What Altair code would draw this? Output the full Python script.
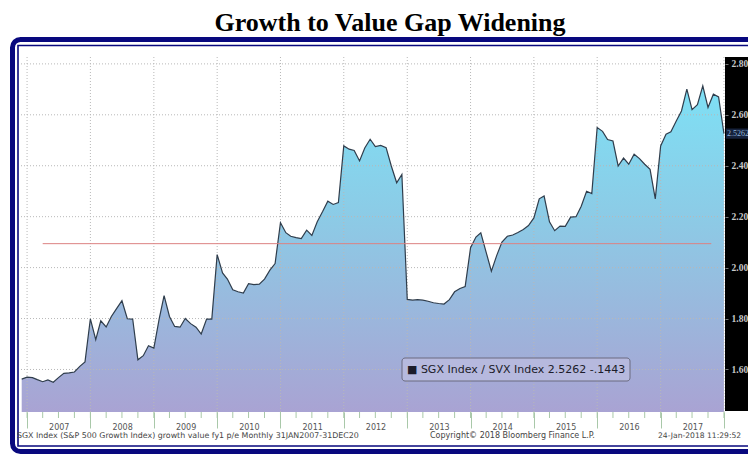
import altair as alt
import pandas as pd

# ---------------- data ----------------
months = pd.date_range("2006-12-01", "2018-01-01", freq="MS").strftime("%Y-%m-%d").tolist()
ratio = [
    1.562, 1.570, 1.568, 1.560, 1.552, 1.559, 1.550, 1.568, 1.585, 1.587, 1.590, 1.612, 1.630,
    1.799, 1.717, 1.791, 1.767, 1.808, 1.840, 1.870, 1.799, 1.798, 1.638, 1.654, 1.693,
    1.684, 1.800, 1.890, 1.808, 1.769, 1.766, 1.800, 1.780, 1.766, 1.739, 1.798, 1.798,
    2.051, 1.979, 1.955, 1.913, 1.905, 1.900, 1.937, 1.933, 1.935, 1.955, 1.990, 2.016,
    2.176, 2.137, 2.123, 2.118, 2.114, 2.147, 2.126, 2.180, 2.220, 2.261, 2.248, 2.255,
    2.478, 2.465, 2.460, 2.419, 2.470, 2.504, 2.475, 2.480, 2.471, 2.399, 2.333, 2.366,
    1.875, 1.872, 1.874, 1.872, 1.868, 1.862, 1.859, 1.857, 1.874, 1.905, 1.918, 1.926,
    2.078, 2.120, 2.137, 2.060, 1.986, 2.048, 2.100, 2.123, 2.128, 2.138, 2.150, 2.165,
    2.195, 2.270, 2.281, 2.180, 2.145, 2.163, 2.162, 2.198, 2.200, 2.241, 2.300, 2.291,
    2.550, 2.535, 2.503, 2.497, 2.399, 2.430, 2.406, 2.445, 2.428, 2.406, 2.386, 2.270,
    2.478, 2.524, 2.533, 2.576, 2.615, 2.701, 2.620, 2.640, 2.714, 2.629, 2.681, 2.670, 2.526,
]
mean_value = 2.094
mean_start, mean_end = "2007-04-01", "2017-10-20"
last_value = 2.5262
year_ticks = [f"{y}-01-01" for y in range(2007, 2019)]
quarter_ticks = pd.date_range("2007-01-01", "2018-01-01", freq="3MS").strftime("%Y-%m-%d").tolist()
y_ticks = [1.6, 1.8, 2.0, 2.2, 2.4, 2.6, 2.8]
y_min, y_max = 1.433, 2.827

title_text = "Growth to Value Gap Widening"
legend_text = "\u25A0 SGX Index / SVX Index 2.5262  -.1443"
footer_left = "SGX Index (S&P 500 Growth Index) growth value fy1 p/e  Monthly 31JAN2007-31DEC20"
footer_mid = "Copyright\u00a9 2018 Bloomberg Finance L.P."
footer_right = "24-Jan-2018 11:29:52"

df = pd.DataFrame({"date": months, "ratio": ratio})

def ms(s):
    return int(pd.Timestamp(s).value // 10**6)

W, H = 704, 355
navy = "#08087e"
grid_col = "#b8b8b8"

xscale = alt.Scale(type="utc", domain=[ms("2006-11-27"), ms("2018-01-07")])
yscale = alt.Scale(domain=[y_min, y_max], nice=False, zero=False)

one = alt.Data(values=[{"a": 0}])

outer = alt.Chart(one).mark_rect(fill="transparent", stroke=navy, strokeWidth=5, cornerRadius=8).encode(
    x=alt.value(-8.5), x2=alt.value(780), y=alt.value(-17.5), y2=alt.value(394.5))
inner = alt.Chart(one).mark_rect(fill="transparent", stroke=navy, strokeWidth=1.6).encode(
    x=alt.value(-3), x2=alt.value(780), y=alt.value(-11.5), y2=alt.value(389))
panel = alt.Chart(one).mark_rect(color="black").encode(
    x=alt.value(W), x2=alt.value(780), y=alt.value(0), y2=alt.value(H - 1))

grad = alt.Gradient(
    gradient="linear",
    stops=[alt.GradientStop(color="#7ee0f5", offset=0),
           alt.GradientStop(color="#8ccbe6", offset=0.4),
           alt.GradientStop(color="#a9a3d3", offset=1)],
    x1=1, x2=1, y1=0, y2=1)

xaxis = alt.Axis(values=[ms(d) for d in year_ticks], grid=False,
                 tickSize=16, tickColor="#a9c8a9", domain=False, labelOffset=31.7,
                 labelBaseline="bottom", labelPadding=3, labelFont="DejaVu Sans", labelFontSize=8,
                 labelColor="#555555", title=None,
                 labelExpr="utcyear(datum.value) >= 2018 ? '' : utcFormat(datum.value, '%Y')")
yaxis = alt.Axis(orient="right", values=y_ticks, format=".2f", grid=False,
                 tickSize=3, tickColor="#777777", domain=False,
                 labelFont="Liberation Serif", labelFontSize=9.5, labelFontWeight="bold",
                 labelColor="#c8c8c8", labelPadding=3, title=None, zindex=1)

area = alt.Chart(df).transform_calculate(base=str(y_min)).mark_area(color=grad, clip=True).encode(
    x=alt.X("date:T", scale=xscale, axis=xaxis),
    y=alt.Y("ratio:Q", scale=yscale, axis=yaxis),
    y2="base:Q")

ygrid = alt.Chart(pd.DataFrame({"t": y_ticks})).mark_rule(
    color=grid_col, strokeDash=[1, 2], strokeWidth=1).encode(
    y=alt.Y("t:Q", scale=yscale), x=alt.value(0), x2=alt.value(W))
xgrid = alt.Chart(pd.DataFrame({"d": year_ticks})).mark_rule(
    color=grid_col, strokeDash=[1, 2], strokeWidth=1).encode(
    x=alt.X("d:T", scale=xscale), y=alt.value(0), y2=alt.value(H))

line = alt.Chart(df).mark_line(color="#2f3d4c", strokeWidth=1.2).encode(
    x=alt.X("date:T", scale=xscale), y=alt.Y("ratio:Q", scale=yscale))

mean_df = pd.DataFrame({"start": [mean_start], "end": [mean_end], "v": [mean_value]})
mean_rule = alt.Chart(mean_df).mark_rule(color="#dc8282", strokeWidth=1).encode(
    x=alt.X("start:T", scale=xscale), x2="end:T", y=alt.Y("v:Q", scale=yscale))

qt = alt.Chart(pd.DataFrame({"d": quarter_ticks})).mark_rule(color="#a9c8a9").encode(
    x=alt.X("d:T", scale=xscale), y=alt.value(H), y2=alt.value(H + 6))

last_df = pd.DataFrame({"v": [last_value]})
last_box = alt.Chart(last_df).transform_calculate(
    top="datum.v + 0.02", bot="datum.v - 0.02").mark_rect(color="#16223c").encode(
    x=alt.value(W + 1), x2=alt.value(W + 40),
    y=alt.Y("top:Q", scale=yscale), y2="bot:Q")
last_txt = alt.Chart(last_df).mark_text(align="left", baseline="middle", font="Liberation Serif",
                                        fontSize=8, color="#8fb4d8").encode(
    x=alt.value(W + 2), y=alt.Y("v:Q", scale=yscale), text=alt.Text("v:Q", format=".4f"))

legend_box = alt.Chart(one).mark_rect(fill="#b6b9de", stroke="#6b6b80", strokeWidth=1, cornerRadius=3).encode(
    x=alt.value(381), x2=alt.value(609), y=alt.value(301), y2=alt.value(324))
legend_txt = alt.Chart(one).mark_text(align="left", baseline="middle", font="DejaVu Sans",
                                      fontSize=11, color="#1c1c2a").encode(
    x=alt.value(386), y=alt.value(312.5), text=alt.value(legend_text))

def txt(t, x, y, size, align="left", font="DejaVu Sans", weight="normal", color="#444444"):
    return alt.Chart(one).mark_text(align=align, baseline="alphabetic", font=font, fontSize=size,
                                    fontWeight=weight, color=color).encode(
        x=alt.value(x), y=alt.value(y), text=alt.value(t))

f1 = txt(footer_left, -4, 381, 7.9)
f2 = txt(footer_mid, 409, 381, 8.0)
f3 = txt(footer_right, 637, 381, 7.6)
title = txt(title_text, 369, -26, 26, align="center", font="Liberation Serif", weight="bold", color="#000000")

chart = alt.layer(outer, inner, panel, area, ygrid, xgrid, line, mean_rule, qt, last_box, last_txt,
                  legend_box, legend_txt, f1, f2, f3, title).properties(
    width=W, height=H,
    autosize=alt.AutoSizeParams(type="none"),
    padding={"left": 13, "top": 49, "right": 23, "bottom": 42},
    background="white",
).configure_view(stroke=None)

chart.save("out.html", embed_options={"renderer": "svg", "actions": False})
